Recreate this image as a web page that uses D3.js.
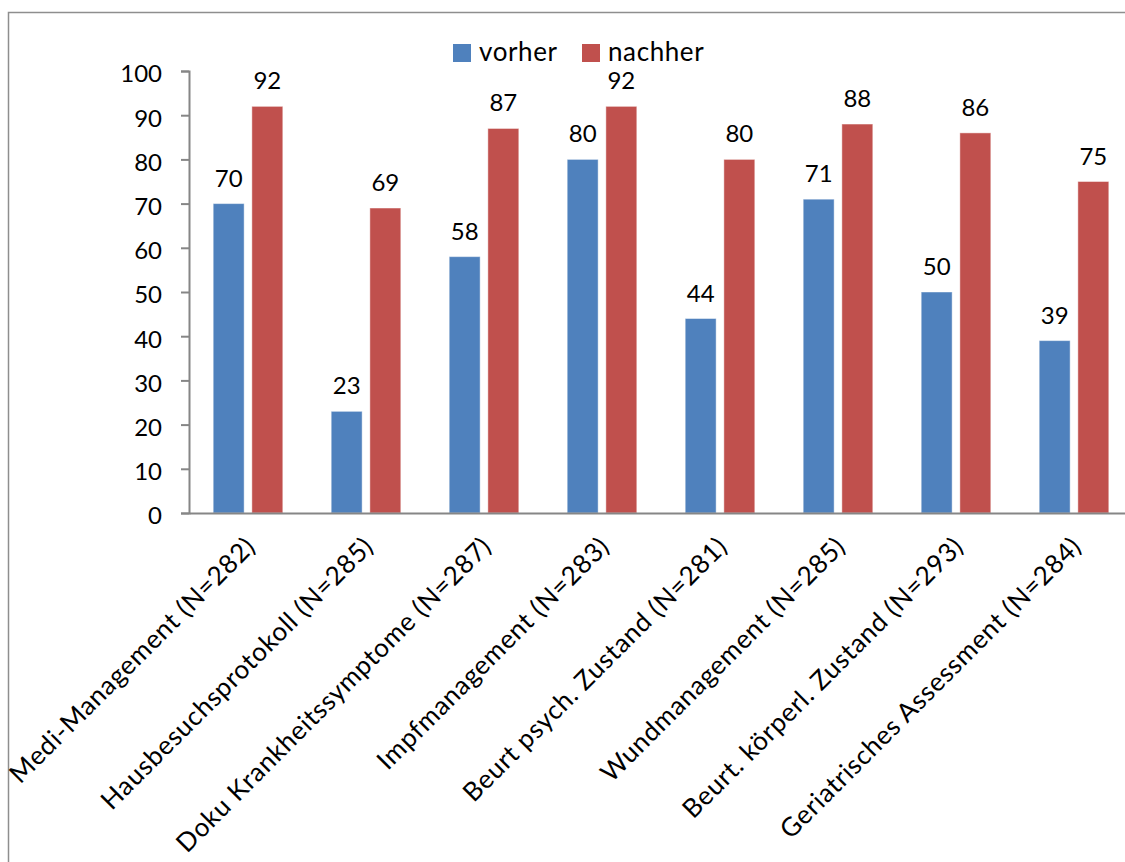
<!DOCTYPE html>
<html>
<head>
<meta charset="utf-8">
<script src="https://cdn.jsdelivr.net/npm/d3@7"></script>
<style>
  html, body { margin: 0; padding: 0; background: #fff; }
  svg { display: block; }
  text { font-family: Lato, "Open Sans", sans-serif; fill: #000; }
</style>
</head>
<body>
<svg id="chart" width="1125" height="862"></svg>
<script>
// Categories (survey items with sample size)
const categories = [
  "Medi-Management (N=282)",
  "Hausbesuchsprotokoll (N=285)",
  "Doku Krankheitssymptome (N=287)",
  "Impfmanagement (N=283)",
  "Beurt psych. Zustand (N=281)",
  "Wundmanagement (N=285)",
  "Beurt. körperl. Zustand (N=293)",
  "Geriatrisches Assessment (N=284)"
];
const seriesNames = ["vorher", "nachher"];
const vorher  = [70, 23, 58, 80, 44, 71, 50, 39];
const nachher = [92, 69, 87, 92, 80, 88, 86, 75];
const yTicks  = [0, 10, 20, 30, 40, 50, 60, 70, 80, 90, 100];

const colors = { vorher: "#4F81BD", nachher: "#C0504D" };
const seriesValues = { vorher, nachher };

const svg = d3.select("#chart");
const W = 1125, H = 862;

// outer chart frame
svg.append("rect")
  .attr("x", 8.5).attr("y", 12.5)
  .attr("width", W + 20).attr("height", H + 20)
  .attr("fill", "none").attr("stroke", "#8e8e8e").attr("stroke-width", 1.5);

const plotLeft = 189, plotRight = 1133, plotTop = 71, plotBottom = 513;

const x0 = d3.scaleBand()
  .domain(categories)
  .range([plotLeft, plotRight])
  .paddingInner(0.41)
  .paddingOuter(0.205);

const x1 = d3.scaleBand()
  .domain(seriesNames)
  .range([0, x0.bandwidth()])
  .paddingInner(0.2);

const y = d3.scaleLinear().domain([0, 100]).range([plotBottom, plotTop]);

// bars
const groups = svg.append("g").selectAll("g")
  .data(categories)
  .join("g")
  .attr("transform", d => `translate(${x0(d)},0)`);

groups.selectAll("rect")
  .data((d, i) => seriesNames.map(s => ({ s, v: seriesValues[s][i] })))
  .join("rect")
  .attr("x", d => x1(d.s))
  .attr("y", d => y(d.v))
  .attr("width", x1.bandwidth())
  .attr("height", d => y(0) - y(d.v))
  .attr("fill", d => colors[d.s])
  .attr("stroke", "rgba(255,255,255,0.45)")
  .attr("stroke-width", 1);

// value labels
groups.selectAll("text.val")
  .data((d, i) => seriesNames.map(s => ({ s, v: seriesValues[s][i] })))
  .join("text")
  .attr("class", "val")
  .attr("x", d => x1(d.s) + x1.bandwidth() / 2)
  .attr("y", d => y(d.v) - 17)
  .attr("text-anchor", "middle")
  .attr("font-size", 24)
  .text(d => d.v);

// y axis
const yAxis = d3.axisLeft(y).tickValues(yTicks).tickSize(8).tickPadding(19);
const gy = svg.append("g").attr("transform", `translate(${plotLeft},0)`).call(yAxis);
gy.select(".domain").attr("stroke", "#868686").attr("stroke-width", 2);
gy.selectAll(".tick line").attr("stroke", "#868686").attr("stroke-width", 2);
gy.selectAll(".tick text")
  .attr("font-family", "Lato, sans-serif")
  .attr("font-size", 24)
  .attr("fill", "#000")
  .attr("dy", "0.45em");

// x axis with rotated category labels
const xAxis = d3.axisBottom(x0).tickSize(0).tickPadding(0);
const gx = svg.append("g").attr("transform", `translate(0,${plotBottom})`).call(xAxis);
gx.select(".domain").attr("stroke", "#868686").attr("stroke-width", 2);
gx.selectAll(".tick text")
  .attr("font-family", "Lato, sans-serif")
  .attr("font-size", 26)
  .attr("letter-spacing", "0.7px")
  .attr("fill", "#000")
  .attr("text-anchor", "end")
  .attr("dy", 0)
  .attr("transform", "translate(9,35) rotate(-45)")
  .attr("x", 0).attr("y", 0);

// legend
const legend = svg.append("g");
const legendItems = [
  { s: "vorher", x: 453 },
  { s: "nachher", x: 582 }
];
legendItems.forEach(it => {
  legend.append("rect")
    .attr("x", it.x).attr("y", 44)
    .attr("width", 18).attr("height", 18)
    .attr("fill", colors[it.s]);
  legend.append("text")
    .attr("x", it.x + 26).attr("y", 61)
    .attr("font-size", 26)
    .attr("letter-spacing", "0.6px")
    .text(it.s);
});
</script>
</body>
</html>
